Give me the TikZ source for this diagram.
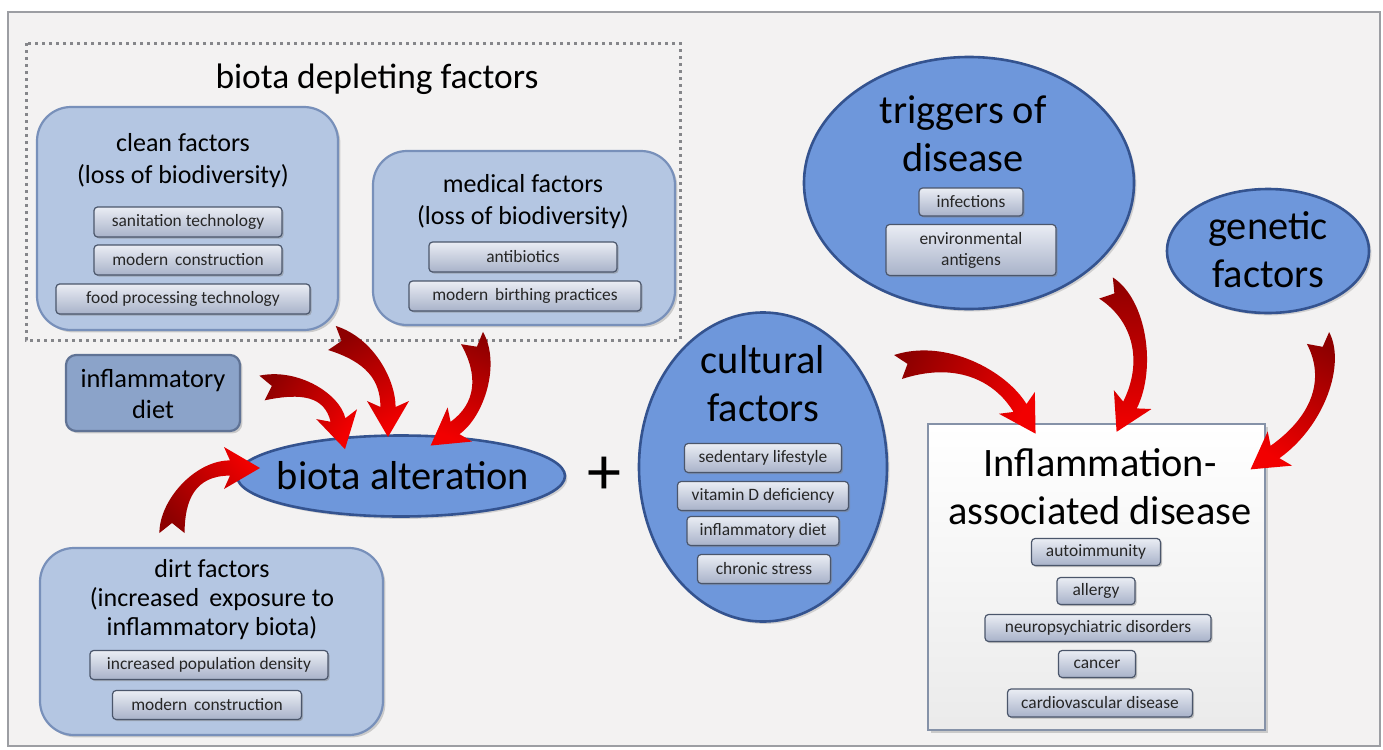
\documentclass[tikz,border=0pt]{standalone}
\usepackage{fontspec}
\setmainfont{Carlito}
\usetikzlibrary{shapes.geometric,calc,shadows}
\definecolor{bgc}{HTML}{F3F2F2}
\definecolor{framec}{HTML}{9C9EA3}
\definecolor{boxfill}{HTML}{B4C6E2}
\definecolor{boxborder}{HTML}{7890BA}
\definecolor{dietfill}{HTML}{8BA3C9}
\definecolor{ellfill}{HTML}{6E97DB}
\definecolor{ellborder}{HTML}{34538F}
\definecolor{btntop}{HTML}{EAEDF4}
\definecolor{btnbot}{HTML}{A8B2C9}
\definecolor{btnborder}{HTML}{4B566B}
\definecolor{arrdark}{HTML}{8E0000}
\definecolor{arrbright}{HTML}{F20000}
\definecolor{inflborder}{HTML}{8592A8}
\definecolor{dotc}{HTML}{85868A}
\newcommand\fBtn{\fontsize{8.7}{10}\selectfont}
\newcommand\fBox{\fontsize{13}{16}\selectfont}
\newcommand\fBig{\fontsize{20.2}{24}\selectfont}
\newcommand\fTitle{\fontsize{17.7}{20}\selectfont}
\def\aw{6.3pt}\def\nw{3.8pt}\def\hw{10.5pt}\def\sw{3pt}\def\hl{15pt}\def\kd{5pt}
\newcommand\redarrow[5]{%
 \coordinate (rA) at #1; \coordinate (rB) at #2; \coordinate (rC) at #3; \coordinate (rD) at #4;
 \coordinate (rTL) at ($(rA)!\aw!90:(rB)$);
 \coordinate (rTR) at ($(rA)!\aw!-90:(rB)$);
 \coordinate (rNL) at ($(rD)!\nw!-90:(rC)$);
 \coordinate (rNR) at ($(rD)!\nw!90:(rC)$);
 \coordinate (rQ) at ($(rD)!\sw!(rC)$);
 \coordinate (rBL) at ($(rQ)!\hw!-90:(rC)$);
 \coordinate (rBR) at ($(rQ)!\hw!90:(rC)$);
 \coordinate (rT) at ($(rD)!\hl!180:(rC)$);
 \coordinate (rK) at ($(rA)!\kd!(rB)$);
 \shade[top color=arrdark, bottom color=arrbright, shading angle=#5]
   (rTL) .. controls ($(rB)+(rTL)-(rA)$) and ($(rC)+(rNL)-(rD)$) .. (rNL)
   -- (rBL) -- (rT) -- (rBR) -- (rNR)
   .. controls ($(rC)+(rNR)-(rD)$) and ($(rB)+(rTR)-(rA)$) .. (rTR)
   -- (rK) -- cycle;
}
\tikzset{
 bigbox/.style={draw=boxborder, line width=1.1pt, fill=boxfill, rounded corners=17pt,
   drop shadow={shadow xshift=1.2pt, shadow yshift=-1.2pt, opacity=0.35}},
 dietbox/.style={draw=boxborder!80!black, line width=1.1pt, fill=dietfill, rounded corners=5pt,
   drop shadow={shadow xshift=1.2pt, shadow yshift=-1.2pt, opacity=0.35}},
 btn/.style={draw=btnborder, line width=0.6pt, rounded corners=1.8pt, top color=btntop,
   bottom color=btnbot, font=\fBtn, text=black!85, inner sep=0pt, align=center,
   minimum height=15pt,
   drop shadow={shadow xshift=0.8pt, shadow yshift=-0.8pt, opacity=0.45}},
 blob/.style={ellipse, draw=ellborder, line width=1.3pt, fill=ellfill, inner sep=0pt,
   drop shadow={shadow xshift=1.2pt, shadow yshift=-1.2pt, opacity=0.3}},
 ttl/.style={align=center, text=black, inner sep=0pt},
 inflbox/.style={draw=inflborder, line width=0.9pt, top color=white, bottom color=black!8,
   drop shadow={shadow xshift=1.5pt, shadow yshift=-1.5pt, opacity=0.35}},
}
\begin{document}
\begin{tikzpicture}[x=0.5pt,y=-0.5pt]
\useasboundingbox (0,0) rectangle (1383,750);
\fill[white] (0,0) rectangle (1383,750);
\draw[fill=bgc, draw=framec, line width=0.8pt] (8,12) rectangle (1380,746);
% dotted group
\draw[dotc, line width=1.5pt, dash pattern=on 1.5pt off 2pt] (26,43) rectangle (680,340);
\node[ttl, font=\fTitle] (tdep) at (377,79) {biota depleting factors};
% clean factors
\node[bigbox, minimum width=150.5pt, minimum height=111.5pt] (clean) at (187.5,218.5) {};
\node[ttl, font=\fBox] (cleanT) at (183,161) {clean factors\\(loss of biodiversity)};
\node[btn, minimum width=94pt] (san) at (188,222) {sanitation technology};
\node[btn, minimum width=94pt] (modc) at (188,260) {modern\, construction};
\node[btn, minimum width=127pt] (food) at (183,299) {food processing technology};
% medical factors
\node[bigbox, minimum width=151pt, minimum height=87pt] (med) at (524,238) {};
\node[ttl, font=\fBox] (medT) at (523,202) {medical factors\\(loss of biodiversity)};
\node[btn, minimum width=94pt] (anti) at (523,257) {antibiotics};
\node[btn, minimum width=116pt] (birth) at (525,296) {modern\, birthing practices};
% inflammatory diet
\node[dietbox, minimum width=87pt, minimum height=38pt] (diet) at (153,393) {};
\node[ttl, font=\fontsize{13.2}{15.5}\selectfont] (dietT) at (153,394) {inflammatory\\diet};
% biota alteration
\node[blob, minimum width=164pt, minimum height=40.5pt] (balt) at (401,476) {};
\node[ttl, font=\fBig] (baltT) at (403,476) {biota alteration};
\node[ttl, font=\fontsize{34}{34}\selectfont] (plus) at (604,476) {+};
% dirt factors
\node[bigbox, minimum width=171.5pt, minimum height=93.5pt] (dirt) at (211.5,641.5) {};
\node[ttl, font=\fontsize{13}{14.5}\selectfont] (dirtT) at (212,600) {dirt factors\\(increased\, exposure to\\inflammatory biota)};
\node[btn, minimum width=119pt, minimum height=14.5pt] (idens) at (209,665) {increased population density};
\node[btn, minimum width=94.5pt, minimum height=14.5pt] (modc2) at (207,705) {modern\, construction};
% cultural factors
\node[blob, minimum width=124pt, minimum height=154.5pt] (cult) at (763,467) {};
\node[ttl, font=\fBig] (cultT) at (763,384) {cultural\\factors};
\node[btn, minimum width=78.5pt, minimum height=14.5pt] (sed) at (763,458) {sedentary lifestyle};
\node[btn, minimum width=85.5pt, minimum height=14.5pt] (vitd) at (763,496) {vitamin D deficiency};
\node[btn, minimum width=76pt, minimum height=14.5pt] (idiet) at (763,531) {inflammatory diet};
\node[btn, minimum width=66.5pt, minimum height=14.5pt] (chron) at (764,569) {chronic stress};
% triggers
\node[blob, minimum width=165pt, minimum height=126pt] (trig) at (969,183) {};
\node[ttl, font=\fBig] (trigT) at (963,134) {triggers of\\disease};
\node[btn, minimum width=52pt, minimum height=14pt] (inf) at (971,202) {infections};
\node[btn, minimum width=85pt, minimum height=25.5pt, font=\fontsize{8.7}{10.5}\selectfont] (env) at (971,250) {environmental\\antigens};
% genetic
\node[blob, minimum width=101pt, minimum height=62pt] (gen) at (1268,251) {};
\node[ttl, font=\fBig] (genT) at (1268,250) {genetic\\factors};
% inflammation-associated disease
\node[inflbox, minimum width=168.5pt, minimum height=153pt] (infl) at (1096.5,577) {};
\node[ttl, font=\fBig] (inflT) at (1100,486.5) {Inflammation-\\associated disease};
\node[btn, minimum width=64.5pt, minimum height=13.5pt] (auto) at (1096,552) {autoimmunity};
\node[btn, minimum width=39pt, minimum height=13.5pt] (allg) at (1096,591) {allergy};
\node[btn, minimum width=113pt, minimum height=13.5pt] (neuro) at (1098,628) {neuropsychiatric disorders};
\node[btn, minimum width=38.5pt, minimum height=13.5pt] (canc) at (1097,664) {cancer};
\node[btn, minimum width=92.5pt, minimum height=14pt] (card) at (1100,703) {cardiovascular disease};
% red arrows
\redarrow{(332,338)}{(370,350)}{(388,380)}{(388,407)}{30}
\redarrow{(472,338)}{(490,370)}{(480,410)}{(455,428)}{-22}
\redarrow{(262,388)}{(300,380)}{(332,395)}{(338,420)}{55}
\redarrow{(172,533)}{(172,500)}{(195,468)}{(230,468)}{126}
\redarrow{(898,367)}{(950,350)}{(1000,375)}{(1020,408)}{63}
\redarrow{(1106,288)}{(1140,310)}{(1150,365)}{(1130,405)}{3}
\redarrow{(1318,338)}{(1335,370)}{(1320,420)}{(1275,452)}{-28}
\end{tikzpicture}
\end{document}
